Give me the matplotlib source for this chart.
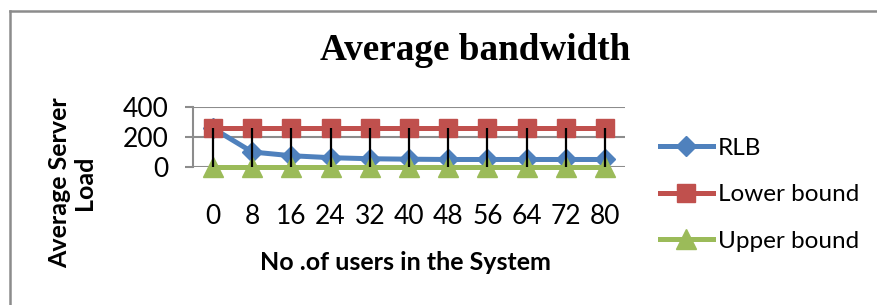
import numpy as np
import matplotlib
matplotlib.use("Agg")
import matplotlib.pyplot as plt
from matplotlib.lines import Line2D

# data
users = [0, 8, 16, 24, 32, 40, 48, 56, 64, 72, 80]
rlb = [258, 100, 75, 62, 55, 52, 50, 50, 50, 50, 50]
lower_bound = [262] * 11
upper_bound = [0] * 11

plt.rcParams['font.family'] = ['Lato', 'DejaVu Sans']

fig = plt.figure(figsize=(8.77, 3.05), dpi=100)
ax = fig.add_axes([0.2205, 0.4525, 0.4917, 0.1967])

x = np.arange(len(users))
ax.plot(x, rlb, color='#4F81BD', lw=3.6, marker='D', ms=10, label='RLB', clip_on=False, zorder=3)
ax.plot(x, lower_bound, color='#C0504D', lw=3.6, marker='s', ms=13, label='Lower bound', clip_on=False, zorder=4)
ax.plot(x, upper_bound, color='#9BBB59', lw=3.6, marker='^', ms=14, label='Upper bound', clip_on=False, zorder=3)
# high-low lines between the series
ax.vlines(x, upper_bound, lower_bound, color='black', lw=1.6, zorder=5, clip_on=False)

ax.set_xlim(-0.5, len(users) - 0.5)
ax.set_ylim(0, 400)
ax.set_yticks([0, 200, 400])
ax.set_xticks(x)
ax.set_xticklabels([str(u) for u in users])
ax.yaxis.grid(True, color='#8C8C8C', lw=1.5)
ax.set_axisbelow(True)
for s in ['top', 'right', 'bottom']:
    ax.spines[s].set_visible(False)
ax.spines['left'].set_color('#8C8C8C')
ax.spines['left'].set_linewidth(1.5)
ax.tick_params(axis='y', length=6, width=1.5, color='#8C8C8C', pad=12, labelsize=19)
ax.tick_params(axis='x', length=0, pad=27, labelsize=19)

fig.text(0.542, 0.835, 'Average bandwidth', family='Liberation Serif', weight='bold',
         fontsize=26.7, ha='center', va='center')
fig.text(0.462, 0.138, 'No .of users in the System', weight='bold', fontsize=18,
         ha='center', va='center')
fig.text(0.082, 0.40, 'Average Server\nLoad', weight='bold', fontsize=18,
         ha='center', va='center', rotation=90, linespacing=1.1)

fig.legend(loc='upper left', bbox_to_anchor=(0.752, 0.548), frameon=False,
           fontsize=17.5, handlelength=2.2, handletextpad=0.2, labelspacing=1.05,
           borderpad=0, borderaxespad=0)

# chart area border (left and top visible)
fig.add_artist(Line2D([0.0114, 0.0114], [0, 0.964], color='#8C8C8C', lw=1.8))
fig.add_artist(Line2D([0.0114, 1.0], [0.964, 0.964], color='#8C8C8C', lw=1.8))

fig.savefig('out.png', dpi=100)
